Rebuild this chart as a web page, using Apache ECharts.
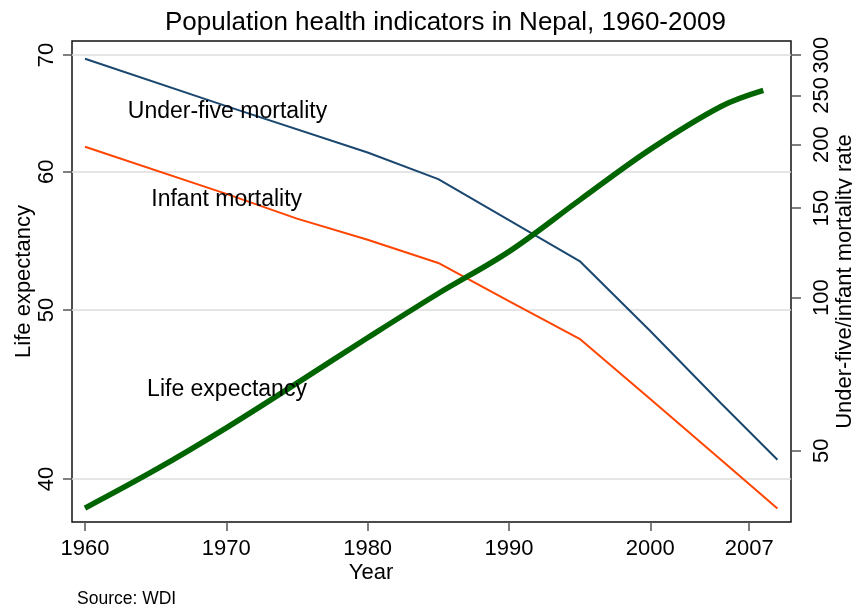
<!DOCTYPE html>
<html><head><meta charset="utf-8">
<script src="https://cdn.jsdelivr.net/npm/echarts@6/dist/echarts.min.js"></script>
<style>html,body{margin:0;padding:0;background:#fff}#c{width:852px;height:609px}</style>
</head><body><div id="c"></div>
<script>
// ---- data ----
const lifeYears = [1960, 1965, 1970, 1975, 1980, 1985, 1990, 1995, 2000, 2005, 2008];
const lifeExpectancy = [38.5, 40.5, 42.8, 45.4, 48.2, 51.1, 54.0, 57.8, 61.8, 65.4, 66.8];
const u5Years = [1960, 1970, 1980, 1985, 1990, 1995, 2000, 2005, 2009];
const under5Mortality = [295, 238, 193, 171, 142, 118, 86, 62, 48];
const imrYears = [1960, 1970, 1975, 1980, 1985, 1990, 1995, 2000, 2005, 2009];
const infantMortality = [198, 160, 143, 130, 117, 98.4, 83, 63.2, 48, 38.5];
const xTicks = [1960, 1970, 1980, 1990, 2000, 2007];
const leftTicks = [40, 50, 60, 70];
const rightTicks = [50, 100, 150, 200, 250, 300];

const F = '"Liberation Sans", Arial, Helvetica, sans-serif';
const pairs = (xs, ys) => xs.map((x, i) => [x, ys[i]]);
const plain = v => String(Math.round(v));

const chart = echarts.init(document.getElementById('c'), null, {renderer: 'canvas'});
chart.setOption({
  backgroundColor: '#fff',
  animation: false,
  title: [
    {text: 'Population health indicators in Nepal, 1960-2009', left: 165, top: 10, padding: 0,
     textStyle: {fontSize: 26, fontWeight: 'normal', color: '#000', fontFamily: F}},
    {text: 'Source: WDI', left: 77, top: 590, padding: 0,
     textStyle: {fontSize: 17.5, fontWeight: 'normal', color: '#000', fontFamily: F}}
  ],
  grid: {left: 72, right: 61, top: 41, bottom: 87, show: true, borderColor: '#111', borderWidth: 1.5,
         backgroundColor: '#fff', containLabel: false, outerBoundsMode: 'none'},
  xAxis: {
    type: 'value', min: 1959.08, max: 2009.96,
    axisLine: {show: false}, splitLine: {show: false},
    axisTick: {show: true, length: 9, customValues: xTicks, lineStyle: {color: '#555', width: 1.5}},
    axisLabel: {customValues: xTicks, interval: 0, margin: 16, fontSize: 22, color: '#000', fontFamily: F, formatter: plain},
    name: 'Year', nameLocation: 'middle', nameGap: 40, nameMoveOverlap: false,
    nameTextStyle: {fontSize: 22, color: '#000', fontFamily: F, padding: [0, 121, 0, 0]}
  },
  yAxis: [
    {
      type: 'log', logBase: 10, min: 37.8, max: 71.3, position: 'left',
      axisLine: {show: false},
      axisTick: {show: true, length: 9, customValues: leftTicks, lineStyle: {color: '#555', width: 1.5}},
      axisLabel: {customValues: leftTicks, interval: 0, rotate: 90, margin: 14, fontSize: 22, color: '#000', fontFamily: F, formatter: plain},
      splitLine: {show: true, lineStyle: {color: '#dcdcdc', width: 1.5}},
      name: 'Life expectancy', nameLocation: 'middle', nameRotate: 90, nameGap: 37, nameMoveOverlap: false,
      nameTextStyle: {fontSize: 22, color: '#000', fontFamily: F}
    },
    {
      type: 'log', logBase: 10, min: 36.2, max: 319.7, position: 'right',
      axisLine: {show: false},
      axisTick: {show: true, length: 10, customValues: rightTicks, lineStyle: {color: '#555', width: 1.5}},
      axisLabel: {customValues: rightTicks, interval: 0, rotate: 90, margin: 20, fontSize: 22, color: '#000', fontFamily: F,
                  hideOverlap: false, formatter: plain},
      splitLine: {show: false},
      name: 'Under-five/infant mortality rate', nameLocation: 'middle', nameRotate: 90, nameGap: 43, nameMoveOverlap: false,
      nameTextStyle: {fontSize: 22, color: '#000', fontFamily: F}
    }
  ],
  series: [
    {name: 'Under-five mortality', type: 'line', yAxisIndex: 1, data: pairs(u5Years, under5Mortality),
     symbol: 'none', lineStyle: {color: '#1a476f', width: 2}, z: 2},
    {name: 'Infant mortality', type: 'line', yAxisIndex: 1, data: pairs(imrYears, infantMortality),
     symbol: 'none', lineStyle: {color: '#ff4500', width: 2}, z: 2},
    {name: 'Life expectancy', type: 'line', yAxisIndex: 0, data: pairs(lifeYears, lifeExpectancy),
     symbol: 'none', smooth: 0.35, lineStyle: {color: '#006400', width: 5.5, join: 'round'}, z: 3}
  ],
  graphic: [
    {type: 'text', x: 227.5, y: 111.7, z: 10, style: {text: 'Under-five mortality', fontSize: 23, fontFamily: F, fill: '#000', align: 'center', verticalAlign: 'middle'}},
    {type: 'text', x: 226.7, y: 199.2, z: 10, style: {text: 'Infant mortality', fontSize: 23, fontFamily: F, fill: '#000', align: 'center', verticalAlign: 'middle'}},
    {type: 'text', x: 227, y: 390, z: 10, style: {text: 'Life expectancy', fontSize: 23, fontFamily: F, fill: '#000', align: 'center', verticalAlign: 'middle'}}
  ]
});
</script></body></html>
